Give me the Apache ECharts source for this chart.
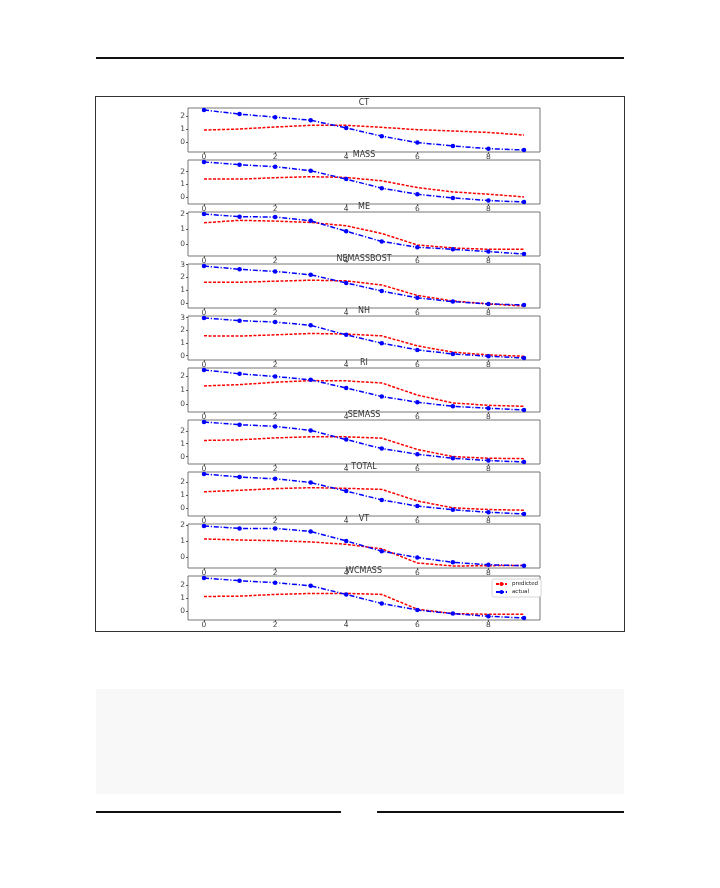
<!DOCTYPE html>
<html><head><meta charset="utf-8">
<script src="https://cdn.jsdelivr.net/npm/echarts@6/dist/echarts.min.js"></script>
<style>
html,body{margin:0;padding:0;background:#fff;}
#page{position:relative;width:720px;height:888px;overflow:hidden;}
.rule{position:absolute;height:1.5px;background:#111;}
#frame{position:absolute;left:95px;top:96px;width:528px;height:534px;border:1.5px solid #333;}
#gray{position:absolute;left:96px;top:689px;width:528px;height:105px;background:#f8f8f8;}
#chart{position:absolute;left:0;top:0;width:720px;height:888px;}
</style></head>
<body><div id="page">
<div class="rule" style="left:96px;top:57px;width:528px"></div>
<div id="frame"></div>
<div id="gray"></div>
<div class="rule" style="left:96px;top:811px;width:245px"></div>
<div class="rule" style="left:377px;top:811px;width:247px"></div>
<div id="chart"></div>
</div>
<script>
// ---- data ----
const panelNames = ['CT','MASS','ME','NEMASSBOST','NH','RI','SEMASS','TOTAL','VT','WCMASS'];
const xIndex = [0,1,2,3,4,5,6,7,8,9];
const xTicks = [0,2,4,6,8];

const predicted_CT = [0.92,1.00,1.15,1.28,1.28,1.13,0.95,0.85,0.74,0.54];
const actual_CT    = [2.44,2.13,1.90,1.67,1.08,0.46,-0.03,-0.28,-0.49,-0.59];
const predicted_MASS = [1.42,1.42,1.53,1.61,1.55,1.29,0.76,0.42,0.24,0.03];
const actual_MASS    = [2.76,2.55,2.39,2.08,1.42,0.71,0.24,-0.05,-0.26,-0.37];
const predicted_ME = [1.40,1.56,1.51,1.42,1.20,0.69,-0.07,-0.27,-0.36,-0.36];
const actual_ME    = [1.98,1.80,1.78,1.53,0.84,0.16,-0.22,-0.36,-0.51,-0.67];
const predicted_NEMASSBOST = [1.63,1.63,1.71,1.79,1.74,1.42,0.61,0.18,-0.05,-0.21];
const actual_NEMASSBOST    = [2.89,2.63,2.47,2.21,1.58,0.95,0.42,0.13,-0.05,-0.13];
const predicted_NH = [1.56,1.54,1.64,1.75,1.70,1.56,0.77,0.27,0.05,-0.05];
const actual_NH    = [2.97,2.76,2.65,2.39,1.64,0.98,0.45,0.13,-0.05,-0.19];
const predicted_RI = [1.28,1.37,1.54,1.66,1.64,1.49,0.63,0.07,-0.10,-0.17];
const actual_RI    = [2.41,2.14,1.95,1.71,1.13,0.53,0.12,-0.17,-0.31,-0.43];
const predicted_SEMASS = [1.25,1.30,1.45,1.53,1.53,1.43,0.55,0.00,-0.13,-0.16];
const actual_SEMASS    = [2.68,2.47,2.34,2.03,1.32,0.62,0.18,-0.13,-0.31,-0.42];
const predicted_TOTAL = [1.27,1.38,1.51,1.58,1.53,1.45,0.57,0.05,-0.08,-0.13];
const actual_TOTAL    = [2.62,2.39,2.26,1.97,1.32,0.65,0.18,-0.10,-0.29,-0.42];
const predicted_VT = [1.13,1.06,1.02,0.94,0.79,0.51,-0.38,-0.57,-0.55,-0.53];
const actual_VT    = [1.94,1.79,1.79,1.60,1.00,0.36,-0.04,-0.34,-0.49,-0.55];
const predicted_WCMASS = [1.14,1.17,1.30,1.38,1.38,1.30,0.16,-0.18,-0.23,-0.23];
const actual_WCMASS    = [2.57,2.36,2.21,1.97,1.30,0.60,0.10,-0.18,-0.39,-0.52];

const yTicks_CT = [0,1,2];
const yTicks_MASS = [0,1,2];
const yTicks_ME = [0,1,2];
const yTicks_NEMASSBOST = [0,1,2,3];
const yTicks_NH = [0,1,2,3];
const yTicks_RI = [0,1,2];
const yTicks_SEMASS = [0,1,2];
const yTicks_TOTAL = [0,1,2];
const yTicks_VT = [0,1,2];
const yTicks_WCMASS = [0,1,2];

const predictedSets = [predicted_CT,predicted_MASS,predicted_ME,predicted_NEMASSBOST,predicted_NH,predicted_RI,predicted_SEMASS,predicted_TOTAL,predicted_VT,predicted_WCMASS];
const actualSets = [actual_CT,actual_MASS,actual_ME,actual_NEMASSBOST,actual_NH,actual_RI,actual_SEMASS,actual_TOTAL,actual_VT,actual_WCMASS];
const yTickSets = [yTicks_CT,yTicks_MASS,yTicks_ME,yTicks_NEMASSBOST,yTicks_NH,yTicks_RI,yTicks_SEMASS,yTicks_TOTAL,yTicks_VT,yTicks_WCMASS];

// ---- layout ----
const GL = 188, GW = 352, GT0 = 108, GH = 44, GSTEP = 52;
const FONT = 'DejaVu Sans';
const tickColor = '#444';

const grids = [], xAxes = [], yAxes = [], series = [], titles = [];
panelNames.forEach((name, i) => {
  const top = GT0 + GSTEP * i;
  grids.push({left: GL, top: top, width: GW, height: GH, show: true, borderColor: '#777', borderWidth: 1, backgroundColor: 'transparent'});
  const xmin = Math.min(...xIndex), xmax = Math.max(...xIndex);
  const xm = (xmax - xmin) * 0.05;
  xAxes.push({
    type: 'value', gridIndex: i, min: xmin - xm, max: xmax + xm, position: 'bottom',
    axisLine: {show: false, onZero: false},
    axisTick: {show: true, length: 2, customValues: xTicks, lineStyle: {color: '#555'}},
    axisLabel: {show: true, customValues: xTicks, margin: 1, fontSize: 7.5, color: tickColor, fontFamily: FONT},
    splitLine: {show: false}
  });
  const all = predictedSets[i].concat(actualSets[i]);
  const ymin = Math.min(...all), ymax = Math.max(...all);
  const ym = (ymax - ymin) * 0.05;
  yAxes.push({
    type: 'value', gridIndex: i, min: ymin - ym, max: ymax + ym, position: 'left',
    axisLine: {show: false, onZero: false},
    axisTick: {show: true, length: 2, customValues: yTickSets[i], lineStyle: {color: '#555'}},
    axisLabel: {show: true, customValues: yTickSets[i], margin: 3, fontSize: 7.5, color: tickColor, fontFamily: FONT},
    splitLine: {show: false}
  });
  titles.push({text: name, left: GL + GW / 2, top: top - 9, textAlign: 'center', padding: 0,
    textStyle: {fontSize: 8, fontWeight: 'normal', color: '#333', fontFamily: FONT}});
  series.push({
    name: 'predicted', type: 'line', xAxisIndex: i, yAxisIndex: i,
    data: xIndex.map((x, k) => [x, predictedSets[i][k]]),
    symbol: 'none', color: '#ff0000',
    lineStyle: {color: '#ff0000', width: 1.5, type: [3, 1.5]}, silent: true, animation: false
  });
  series.push({
    name: 'actual', type: 'line', xAxisIndex: i, yAxisIndex: i,
    data: xIndex.map((x, k) => [x, actualSets[i][k]]),
    symbol: 'circle', symbolSize: 4.5, color: '#0000ff',
    itemStyle: {color: '#0000ff'},
    lineStyle: {color: '#0000ff', width: 1.5, type: [5, 1.8, 1.2, 1.8]}, silent: true, animation: false
  });
});

const chart = echarts.init(document.getElementById('chart'), null, {renderer: 'canvas'});
chart.setOption({
  animation: false,
  backgroundColor: 'transparent',
  title: titles,
  grid: grids,
  xAxis: xAxes,
  yAxis: yAxes,
  legend: {
    data: ['predicted', 'actual'], orient: 'vertical', left: 492, top: 579,
    itemWidth: 11, itemHeight: 5, itemGap: 2, padding: [2, 3, 2, 3],
    backgroundColor: '#fff', borderColor: '#ccc', borderWidth: 0.8, borderRadius: 2,
    textStyle: {fontSize: 5.5, color: '#222', fontFamily: FONT}, selectedMode: false
  },
  series: series
});
</script>
</body></html>
